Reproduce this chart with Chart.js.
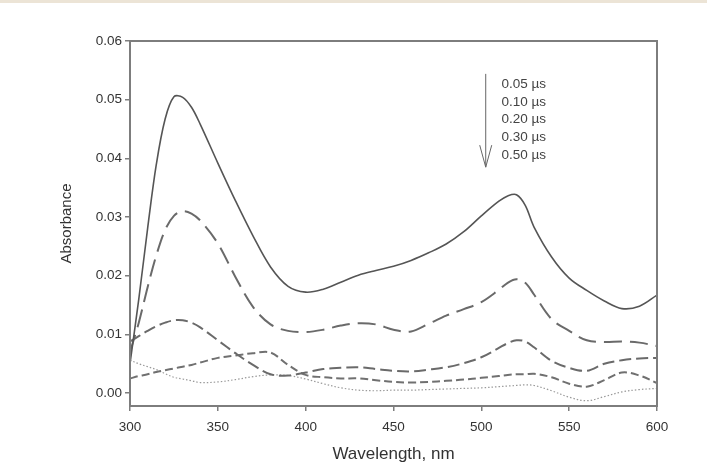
<!DOCTYPE html>
<html lang="en">
<head>
  <meta charset="UTF-8" />
  <title>Transient absorption spectra</title>
  <script src="https://cdn.jsdelivr.net/npm/chart.js"></script>
  <style>
    body { margin: 0; padding: 0; background: #fff; }
    .wrap { position: relative; width: 707px; height: 463px; }
    .topstrip { position: absolute; left: 0; top: 0; width: 707px; height: 3px; background: #ece4d6; }
  </style>
</head>
<body>
  <div class="wrap">
    <canvas id="spectra" width="707" height="463"></canvas>
    <div class="topstrip"></div>
  </div>

  <script>
    // wavelengths (nm)
    const wavelengths = [300, 305, 310, 315, 320, 325, 330, 335, 340, 350, 360, 370, 380, 390, 400,
      410, 420, 430, 440, 450, 460, 470, 480, 490, 500, 510, 515, 520, 525, 530, 540, 550, 560, 570, 580, 590, 600];

    // absorbance at each delay
    const abs005 = [0.0050, 0.0160, 0.0280, 0.0390, 0.0467, 0.0505, 0.0504, 0.0487, 0.0458, 0.0392, 0.0328, 0.0268, 0.0215, 0.0182, 0.0172,
      0.0177, 0.0189, 0.0201, 0.0209, 0.0216, 0.0226, 0.0239, 0.0254, 0.0275, 0.0302, 0.0327, 0.0336, 0.0338, 0.0320, 0.0283, 0.0232, 0.0196, 0.0175, 0.0157, 0.0144, 0.0148, 0.0167];
    const abs010 = [0.0070, 0.0120, 0.0180, 0.0235, 0.0278, 0.0302, 0.0310, 0.0306, 0.0294, 0.0255, 0.0198, 0.0147, 0.0117, 0.0106, 0.0104,
      0.0108, 0.0115, 0.0119, 0.0117, 0.0108, 0.0105, 0.0118, 0.0132, 0.0143, 0.0155, 0.0176, 0.0188, 0.0194, 0.0188, 0.0168, 0.0126, 0.0106, 0.0090, 0.0087, 0.0088, 0.0086, 0.0080];
    const abs020 = [0.0088, 0.0097, 0.0106, 0.0114, 0.0120, 0.0124, 0.0124, 0.0120, 0.0112, 0.0090, 0.0068, 0.0048, 0.0032, 0.0030, 0.0035,
      0.0041, 0.0043, 0.0044, 0.0041, 0.0038, 0.0037, 0.0040, 0.0044, 0.0051, 0.0061, 0.0077, 0.0085, 0.0090, 0.0088, 0.0078, 0.0055, 0.0043, 0.0038, 0.0050, 0.0056, 0.0059, 0.0060];
    const abs030 = [0.0025, 0.0029, 0.0032, 0.0036, 0.0039, 0.0042, 0.0045, 0.0048, 0.0052, 0.0060, 0.0064, 0.0068, 0.0069, 0.0048, 0.0031,
      0.0027, 0.0025, 0.0025, 0.0022, 0.0019, 0.0018, 0.0019, 0.0021, 0.0023, 0.0026, 0.0029, 0.0031, 0.0032, 0.0032, 0.0033, 0.0027, 0.0016, 0.0011, 0.0022, 0.0035, 0.0030, 0.0017];
    const abs050 = [0.0056, 0.0050, 0.0045, 0.0040, 0.0033, 0.0027, 0.0024, 0.0021, 0.0018, 0.0019, 0.0023, 0.0028, 0.0031, 0.0030, 0.0024,
      0.0016, 0.0009, 0.0005, 0.0004, 0.0005, 0.0005, 0.0006, 0.0007, 0.0008, 0.0009, 0.0011, 0.0012, 0.0013, 0.0014, 0.0013, 0.0004, -0.0007, -0.0013, -0.0006, 0.0002, 0.0006, 0.0008];

    const delayLabels = ['0.05 µs', '0.10 µs', '0.20 µs', '0.30 µs', '0.50 µs'];
    const xTicks = [300, 350, 400, 450, 500, 550, 600];
    const yTicks = [0.00, 0.01, 0.02, 0.03, 0.04, 0.05, 0.06];

    const FONT = "Arial, 'Liberation Sans', sans-serif";
    const AXIS = '#7d7d7d';

    function pts(vals) {
      return wavelengths.map((w, i) => ({ x: w, y: vals[i] }));
    }

    function series(label, vals, color, width, dash) {
      return {
        label: label,
        data: pts(vals),
        borderColor: color,
        borderWidth: width,
        borderDash: dash,
        pointRadius: 0,
        fill: false,
        tension: 0.35
      };
    }

    // box around the plot + the arrow / delay legend
    const framePlugin = {
      id: 'frame',
      afterDraw(chart) {
        const ctx = chart.ctx;
        const a = chart.chartArea;
        const x = chart.scales.x, y = chart.scales.y;
        ctx.save();
        ctx.strokeStyle = AXIS;
        ctx.lineWidth = 2;
        ctx.strokeRect(a.left, a.top, a.right - a.left, a.bottom - a.top);

        // arrow
        const ax = x.getPixelForValue(502.5);
        const y0 = y.getPixelForValue(0.0544);
        const y1 = y.getPixelForValue(0.0385);
        ctx.strokeStyle = '#666';
        ctx.lineWidth = 1;
        ctx.beginPath();
        ctx.moveTo(ax, y0);
        ctx.lineTo(ax, y1);
        ctx.moveTo(ax - 6, y1 - 22);
        ctx.lineTo(ax, y1);
        ctx.lineTo(ax + 6, y1 - 22);
        ctx.stroke();

        ctx.fillStyle = '#444';
        ctx.font = '13.5px ' + FONT;
        ctx.textAlign = 'left';
        ctx.textBaseline = 'middle';
        const tx = x.getPixelForValue(511.5);
        delayLabels.forEach((t, i) => {
          ctx.fillText(t, tx, y.getPixelForValue(0.0527 - i * 0.00306));
        });
        ctx.restore();
      }
    };

    new Chart(document.getElementById('spectra'), {
      type: 'line',
      data: {
        datasets: [
          series(delayLabels[0], abs005, '#555', 1.6, []),
          series(delayLabels[1], abs010, '#6a6a6a', 2, [18, 8]),
          series(delayLabels[2], abs020, '#6a6a6a', 2, [12, 5]),
          series(delayLabels[3], abs030, '#707070', 2, [8, 4]),
          series(delayLabels[4], abs050, '#9a9a9a', 1.2, [1.5, 2])
        ]
      },
      options: {
        responsive: false,
        animation: false,
        layout: { padding: { left: 0, right: 50, top: 41, bottom: 0 } },
        plugins: {
          legend: { display: false },
          tooltip: { enabled: false }
        },
        scales: {
          x: {
            type: 'linear',
            min: 300,
            max: 600,
            afterBuildTicks: s => { s.ticks = xTicks.map(v => ({ value: v })); },
            afterFit: s => { s.height = 57; },
            border: { display: false },
            grid: { drawOnChartArea: false, drawTicks: true, tickLength: 5, color: AXIS, lineWidth: 1.5 },
            ticks: { color: '#333', font: { family: FONT, size: 13.5 }, padding: 8, maxRotation: 0,
              callback: v => String(v) },
            title: { display: true, text: 'Wavelength, nm', color: '#333',
              font: { family: FONT, size: 17 }, padding: { top: 0, bottom: -2 } }
          },
          y: {
            type: 'linear',
            min: -0.0022,
            max: 0.06,
            afterBuildTicks: s => { s.ticks = yTicks.map(v => ({ value: v })); },
            afterFit: s => { s.width = 130; },
            border: { display: false },
            grid: { drawOnChartArea: false, drawTicks: true, tickLength: 5, color: AXIS, lineWidth: 1.5 },
            ticks: { color: '#333', font: { family: FONT, size: 13.5 }, padding: 3,
              callback: v => v.toFixed(2) },
            title: { display: true, text: 'Absorbance', color: '#333',
              font: { family: FONT, size: 15 }, padding: { top: 58, bottom: 0 } }
          }
        }
      },
      plugins: [framePlugin]
    });
  </script>
</body>
</html>
